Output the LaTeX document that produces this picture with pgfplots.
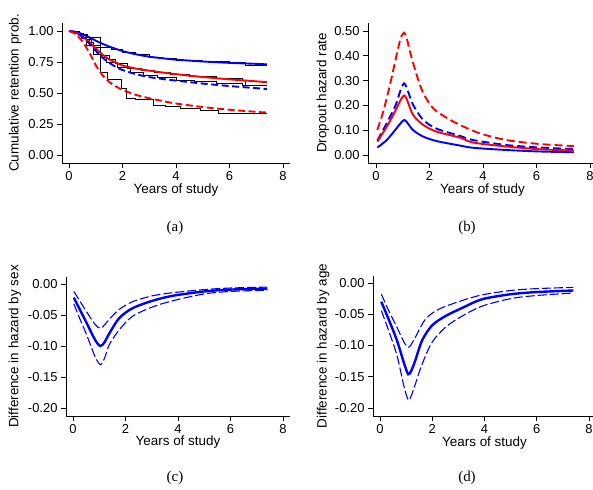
\documentclass[border=0pt]{standalone}
\usepackage{fontspec}
\setmainfont{Liberation Sans}
\newfontfamily\capfont{Liberation Serif}
\usepackage{pgfplots}
\pgfplotsset{compat=1.18}

\pgfplotsset{
  panel/.style={
    scale only axis, anchor=south west,
    axis x line*=bottom, axis y line*=left,
    axis line style={-, line width=0.9bp},
    tick align=outside, major tick length=5bp,
    every tick/.style={black, line width=0.9bp},
    xtick={0,2,4,6,8},
    tick label style={font=\fontsize{13}{15}\selectfont},
    label style={font=\fontsize{13.5}{16}\selectfont},
    /pgf/number format/assume math mode=true,
    y tick label style={/pgf/number format/.cd, fixed, fixed zerofill, precision=2, /tikz/.cd},
    xlabel={Years of study},
    xlabel style={at={(axis description cs:0.5,-0.19)}, anchor=center},
  },
  km/.style={black, line width=0.8bp, const plot mark left},
  fit/.style={line width=1.9bp, smooth, tension=0.5},
  dsh/.style={dash pattern=on 7bp off 3.5bp},
  ci/.style={blue, line width=1.1bp, smooth, tension=0.5, dash pattern=on 9bp off 3bp},
}

\begin{document}
\begin{tikzpicture}
\path[use as bounding box] (0,0) rectangle (593bp,490bp);

% (a) retention
\begin{axis}[panel, at={(62bp,327bp)}, width=228bp, height=140bp,
  xmin=-0.2617, xmax=8.2617, ymin=-0.0645, ymax=1.0645,
  ytick={0,0.25,0.5,0.75,1},
  ylabel={Cumulative retention prob.},
  ylabel style={at={(axis description cs:-0.206,0.5)}, anchor=center}]
\addplot[km] coordinates {(0,1) (0.4,0.975) (0.7,0.95) (1.17,0.87) (1.6,0.85) (2,0.83) (2.5,0.81) (3,0.79) (3.5,0.775) (4,0.765) (5,0.755) (6,0.745) (6.6,0.725) (7.4,0.725)};
\addplot[km] coordinates {(0,1) (0.3,0.98) (0.55,0.95) (0.75,0.91) (0.9,0.87) (1.17,0.80) (1.5,0.77) (1.75,0.74) (2.2,0.70) (2.7,0.68) (3.2,0.665) (3.8,0.65) (4.5,0.635) (5.5,0.615) (6.5,0.6) (6.6,0.565) (7.4,0.565)};
\addplot[km] coordinates {(0,1) (0.4,0.97) (0.65,0.93) (0.85,0.88) (1.17,0.79) (1.4,0.75) (1.8,0.71) (2.3,0.67) (2.8,0.645) (3.3,0.625) (4,0.605) (4.7,0.59) (5.5,0.575) (6.5,0.565) (7.4,0.565)};
\addplot[km] coordinates {(0,1) (0.25,0.98) (0.45,0.94) (0.65,0.88) (0.9,0.81) (1.17,0.67) (1.45,0.61) (1.95,0.54) (2.15,0.46) (2.5,0.445) (3.15,0.40) (3.6,0.39) (4.15,0.375) (4.9,0.36) (5.6,0.335) (7.4,0.335)};
\addplot[fit, blue] coordinates {(0,1) (0.25,0.993) (0.5,0.975) (0.75,0.95) (1,0.922) (1.25,0.897) (1.5,0.875) (2,0.838) (2.5,0.812) (3,0.793) (3.5,0.78) (4,0.769) (5,0.754) (6,0.743) (7,0.735) (7.4,0.731)};
\addplot[fit, red] coordinates {(0,1) (0.25,0.988) (0.5,0.955) (0.75,0.91) (1,0.86) (1.25,0.81) (1.5,0.772) (1.75,0.745) (2,0.722) (2.5,0.697) (3,0.68) (3.5,0.665) (4,0.652) (5,0.629) (6,0.61) (7,0.594) (7.4,0.587)};
\addplot[fit, dsh, blue] coordinates {(0,1) (0.25,0.988) (0.5,0.952) (0.75,0.9) (1,0.84) (1.25,0.785) (1.5,0.745) (1.75,0.71) (2,0.685) (2.5,0.652) (3,0.628) (3.5,0.613) (4,0.6) (5,0.576) (6,0.556) (7,0.539) (7.4,0.532)};
\addplot[fit, dsh, red] coordinates {(0,1) (0.25,0.975) (0.5,0.915) (0.75,0.83) (1,0.725) (1.25,0.645) (1.5,0.59) (1.75,0.553) (2,0.525) (2.5,0.485) (3,0.458) (3.5,0.435) (4,0.415) (5,0.387) (6,0.365) (7,0.348) (7.4,0.342)};
\end{axis}

% (b) hazard
\begin{axis}[panel, at={(368bp,327bp)}, width=229bp, height=140bp,
  xmin=-0.299, xmax=8.2617, ymin=-0.0323, ymax=0.5323,
  ytick={0,0.1,0.2,0.3,0.4,0.5},
  ylabel={Dropout hazard rate},
  ylabel style={at={(axis description cs:-0.197,0.5)}, anchor=center}]
\addplot[fit, red, dash pattern=on 8bp off 4bp] coordinates {(0.05,0.101) (0.27,0.175) (0.52,0.282) (0.77,0.403) (0.92,0.47) (1.05,0.493) (1.15,0.47) (1.27,0.417) (1.52,0.323) (1.77,0.249) (2.14,0.188) (2.64,0.15) (3.14,0.121) (3.89,0.087) (4.89,0.06) (6.14,0.044) (7.4,0.036)};
\addplot[fit, blue, dash pattern=on 8bp off 4bp] coordinates {(0.05,0.058) (0.4,0.128) (0.73,0.2) (0.92,0.262) (1.05,0.289) (1.15,0.27) (1.4,0.2) (1.77,0.141) (2.27,0.106) (3.14,0.077) (3.64,0.06) (4.89,0.04) (6.14,0.03) (7.4,0.024)};
\addplot[fit, red] coordinates {(0.05,0.054) (0.4,0.114) (0.71,0.175) (0.92,0.222) (1.05,0.24) (1.15,0.225) (1.39,0.161) (1.77,0.121) (2.27,0.094) (3.14,0.07) (3.64,0.05) (4.89,0.034) (6.14,0.023) (7.4,0.018)};
\addplot[fit, blue] coordinates {(0.05,0.03) (0.4,0.06) (0.71,0.1) (0.92,0.128) (1.05,0.141) (1.15,0.133) (1.39,0.1) (1.77,0.074) (2.27,0.056) (3.14,0.038) (3.64,0.029) (4.89,0.02) (6.14,0.014) (7.4,0.011)};
\end{axis}

% (c) difference by sex
\begin{axis}[panel, at={(66bp,74bp)}, width=224bp, height=139bp,
  xmin=-0.2667, xmax=8.2667, ymin=-0.2129, ymax=0.0113,
  ytick={-0.2,-0.15,-0.1,-0.05,0},
  ylabel={Difference in hazard by sex},
  ylabel style={at={(axis description cs:-0.228,0.5)}, anchor=center}]
\addplot[ci] coordinates {(0.03,-0.012) (0.27,-0.028) (0.52,-0.045) (0.84,-0.065) (1.04,-0.0715) (1.2,-0.066) (1.38,-0.057) (1.76,-0.041) (2.27,-0.0285) (3.03,-0.019) (3.8,-0.014) (5,-0.009) (6,-0.0065) (7.4,-0.005)};
\addplot[ci] coordinates {(0.03,-0.032) (0.27,-0.057) (0.52,-0.082) (0.84,-0.117) (1.04,-0.13) (1.2,-0.12) (1.38,-0.098) (1.76,-0.074) (2.27,-0.052) (3.03,-0.037) (3.8,-0.027) (5,-0.016) (6,-0.012) (7.4,-0.010)};
\addplot[blue, line width=2.4bp, smooth, tension=0.5] coordinates {(0.03,-0.022) (0.27,-0.042) (0.52,-0.063) (0.84,-0.09) (1.04,-0.1) (1.2,-0.094) (1.38,-0.08) (1.76,-0.055) (2.27,-0.039) (3.03,-0.027) (3.8,-0.019) (5,-0.012) (6,-0.009) (7.4,-0.0075)};
\end{axis}

% (d) difference by age
\begin{axis}[panel, at={(373bp,74bp)}, width=223bp, height=140bp,
  xmin=-0.268, xmax=8.268, ymin=-0.2128, ymax=0.0112,
  ytick={-0.2,-0.15,-0.1,-0.05,0},
  ylabel={Difference in hazard by age},
  ylabel style={at={(axis description cs:-0.224,0.5)}, anchor=center}]
\addplot[ci] coordinates {(0.05,-0.0176) (0.33,-0.044) (0.65,-0.071) (0.91,-0.094) (1.08,-0.103) (1.2,-0.098) (1.35,-0.087) (1.74,-0.058) (2.25,-0.042) (3.14,-0.028) (3.91,-0.019) (5,-0.012) (6,-0.009) (7.4,-0.007)};
\addplot[ci] coordinates {(0.05,-0.044) (0.33,-0.076) (0.65,-0.116) (0.91,-0.164) (1.08,-0.187) (1.2,-0.18) (1.35,-0.162) (1.61,-0.13) (1.99,-0.095) (2.5,-0.071) (3.14,-0.053) (3.91,-0.037) (5,-0.025) (6,-0.02) (7.4,-0.016)};
\addplot[blue, line width=2.4bp, smooth, tension=0.5] coordinates {(0.05,-0.03) (0.33,-0.058) (0.65,-0.092) (0.91,-0.127) (1.08,-0.146) (1.2,-0.14) (1.35,-0.124) (1.61,-0.092) (1.99,-0.068) (2.5,-0.053) (3.14,-0.04) (3.91,-0.026) (5,-0.018) (6,-0.0145) (7.4,-0.012)};
\end{axis}

\node[font=\capfont\fontsize{15}{17}\selectfont] at (175bp,262bp) {(a)};
\node[font=\capfont\fontsize{15}{17}\selectfont] at (467bp,262bp) {(b)};
\node[font=\capfont\fontsize{15}{17}\selectfont] at (175bp,12bp) {(c)};
\node[font=\capfont\fontsize{15}{17}\selectfont] at (467bp,12bp) {(d)};
\end{tikzpicture}
\end{document}
